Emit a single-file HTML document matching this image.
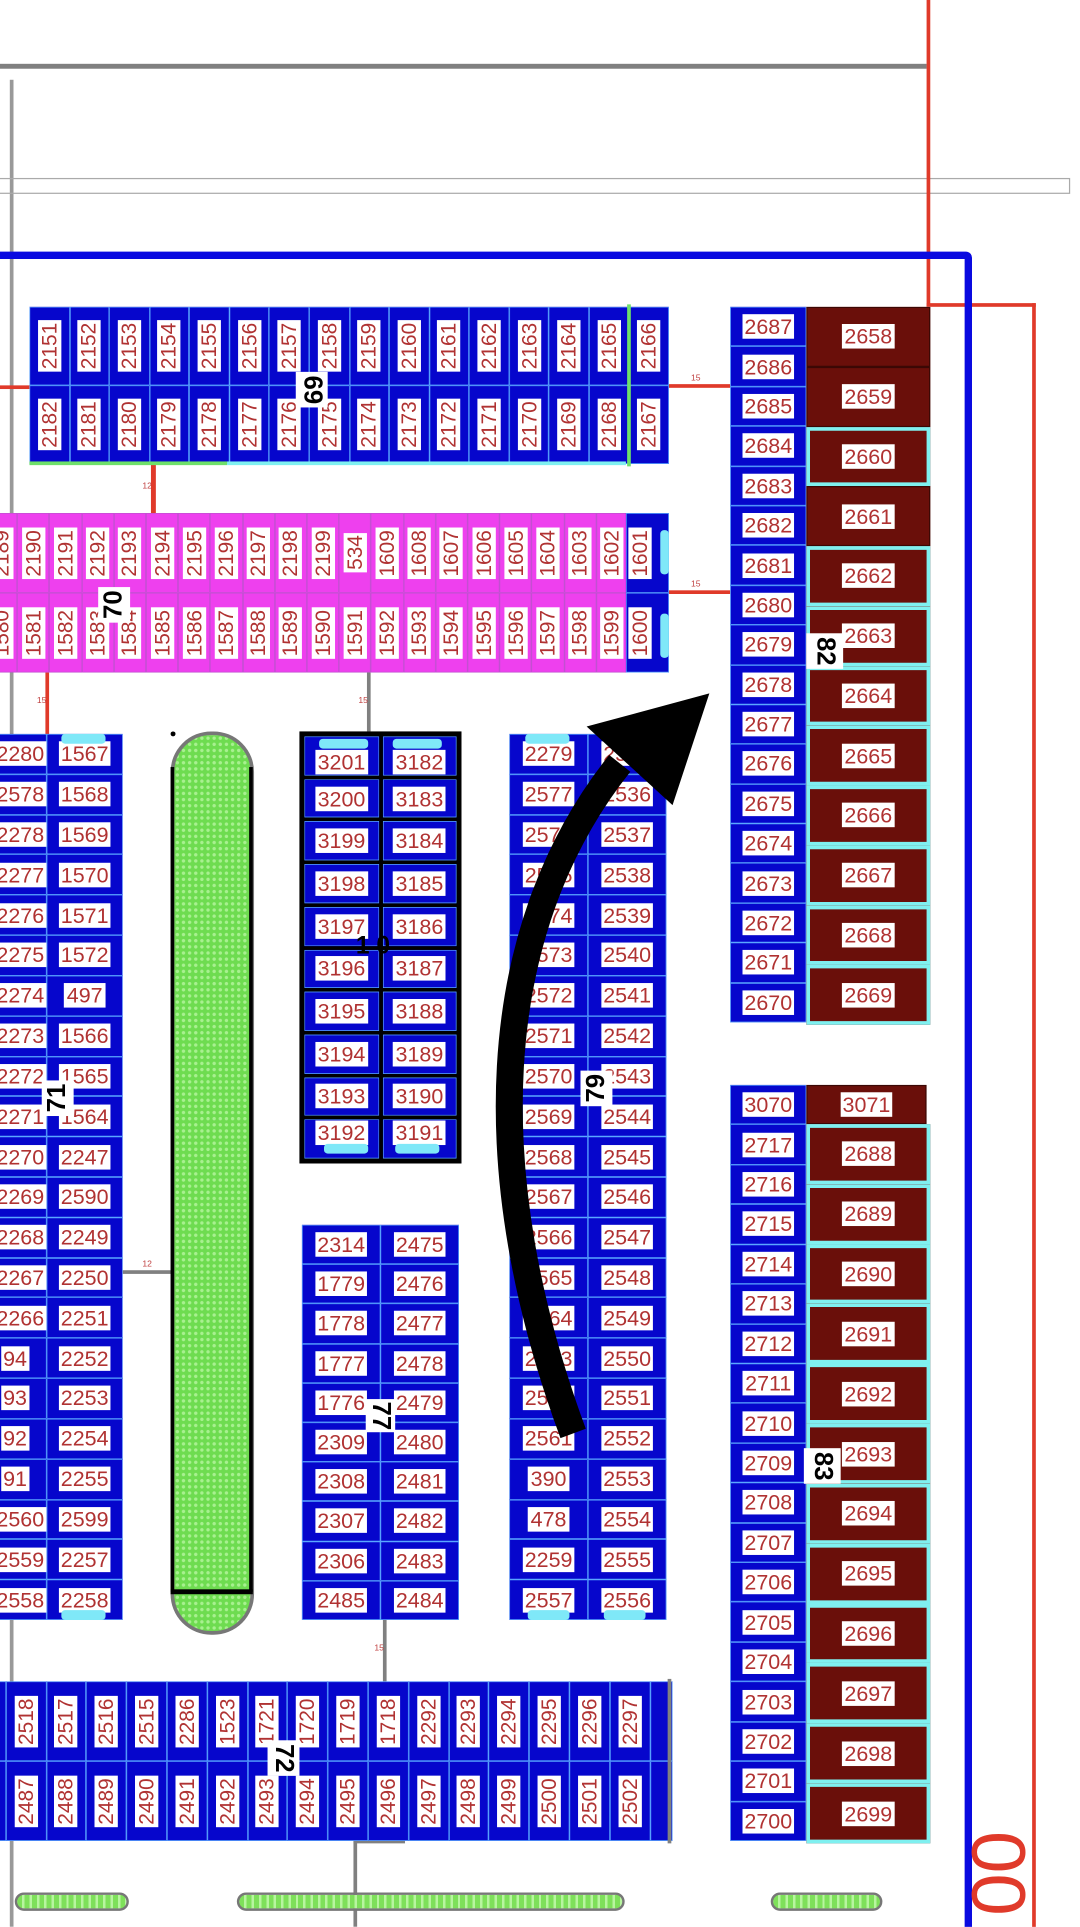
<!DOCTYPE html>
<html><head><meta charset="utf-8">
<style>
html,body{margin:0;padding:0;background:#fff;overflow:hidden;width:1080px;height:1927px}
#p{position:absolute;left:0;top:0;width:880px;height:1570px;transform:scale(1.22727);transform-origin:0 0;overflow:hidden;font-family:"Liberation Sans",sans-serif}
.a{position:absolute}
.g{position:absolute;display:grid;background:#0606cc}
.g>div{display:flex;align-items:center;justify-content:center;box-shadow:inset 0 0 0 .6px #5aa8ff;overflow:hidden}
.l{background:#fff;color:#b03232;font-size:17.5px;line-height:20px;padding:0 2px;white-space:nowrap}
.v{writing-mode:vertical-rl;transform:rotate(180deg);font-size:17px;line-height:19px;padding:2px 0}
.pk{background:#ee40ee}
.pk>div{box-shadow:inset 0 0 0 .6px #c050d0}
.br{background:#fff}
.br>div{background:#6a0f0a;box-shadow:inset 0 0 0 1px #3a0805}
.br>div.c{box-shadow:inset 0 0 0 3px #7ff0f0}
.num{position:absolute;background:#fff;font-weight:bold;font-size:21px;color:#000;writing-mode:vertical-rl;line-height:22px;padding:3px 2px}
.rl{position:absolute;background:#e03a2a}
.gl{position:absolute;background:#808080}
.cap{position:absolute;background:#7fe8f8;border-radius:3px;height:8px}
.s{position:absolute;font-size:7px;color:#c04040}
.bar{position:absolute;height:11px;border:2px solid #777;border-radius:8px;background:repeating-linear-gradient(90deg,#7ee05a 0 4px,#b8f5a0 4px 6px)}
</style></head><body><div id="p">

<div class="gl" style="left:0;top:52px;width:755px;height:4px"></div>
<div class="gl" style="left:8px;top:65px;width:3px;height:1505px;background:#999"></div>
<div class="a" style="left:-2px;top:145px;width:872px;height:11px;border:1px solid #aaa"></div>
<div class="rl" style="left:755px;top:0;width:3px;height:250px"></div>
<div class="rl" style="left:755px;top:247px;width:89px;height:3px"></div>
<div class="rl" style="left:841px;top:247px;width:3px;height:1330px"></div>
<div class="a" style="left:-10px;top:205px;width:790px;height:1400px;border:6px solid #0a0ae0;border-radius:0 5px 0 0"></div>
<div class="a" style="left:788px;top:1492px;color:#e03a2a;font-size:62px;line-height:54px;writing-mode:vertical-rl;transform:rotate(180deg)">00</div>

<div class="rl" style="left:0;top:314px;width:24px;height:3px"></div>
<div class="rl" style="left:545px;top:313px;width:50px;height:3px"></div><div class="s" style="left:563px;top:305px">15</div>
<div class="rl" style="left:545px;top:481px;width:50px;height:3px"></div><div class="s" style="left:563px;top:473px">15</div>
<div class="rl" style="left:123px;top:378px;width:4px;height:40px"></div><div class="s" style="left:116px;top:393px">12</div>
<div class="rl" style="left:37px;top:548px;width:3px;height:50px"></div><div class="s" style="left:30px;top:568px">15</div>
<div class="gl" style="left:299px;top:548px;width:3px;height:48px"></div><div class="s" style="left:292px;top:568px">15</div>
<div class="gl" style="left:100px;top:1035px;width:40px;height:3px"></div><div class="s" style="left:116px;top:1027px">12</div>
<div class="gl" style="left:312px;top:1320px;width:3px;height:50px"></div><div class="s" style="left:305px;top:1340px">15</div>
<div class="gl" style="left:288px;top:1500px;width:3px;height:70px"></div>
<div class="gl" style="left:288px;top:1499px;width:42px;height:3px"></div>

<!-- block 69 -->
<div class="g" style="left:24px;top:250px;width:521px;height:128px;grid-template-columns:repeat(16,1fr);grid-template-rows:1fr 1fr">
<div><span class="l v">2151</span></div><div><span class="l v">2152</span></div><div><span class="l v">2153</span></div><div><span class="l v">2154</span></div><div><span class="l v">2155</span></div><div><span class="l v">2156</span></div><div><span class="l v">2157</span></div><div><span class="l v">2158</span></div><div><span class="l v">2159</span></div><div><span class="l v">2160</span></div><div><span class="l v">2161</span></div><div><span class="l v">2162</span></div><div><span class="l v">2163</span></div><div><span class="l v">2164</span></div><div><span class="l v">2165</span></div><div><span class="l v">2166</span></div>
<div><span class="l v">2182</span></div><div><span class="l v">2181</span></div><div><span class="l v">2180</span></div><div><span class="l v">2179</span></div><div><span class="l v">2178</span></div><div><span class="l v">2177</span></div><div><span class="l v">2176</span></div><div><span class="l v">2175</span></div><div><span class="l v">2174</span></div><div><span class="l v">2173</span></div><div><span class="l v">2172</span></div><div><span class="l v">2171</span></div><div><span class="l v">2170</span></div><div><span class="l v">2169</span></div><div><span class="l v">2168</span></div><div><span class="l v">2167</span></div>
</div>
<div class="a" style="left:24px;top:376px;width:161px;height:3px;background:#6ee06a"></div>
<div class="a" style="left:185px;top:376px;width:325px;height:3px;background:#7ff0f0"></div>
<div class="a" style="left:511px;top:248px;width:3px;height:132px;background:#6ee06a"></div>
<div class="num" style="left:241px;top:303px">69</div>

<!-- block 70 -->
<div class="g pk" style="left:-12px;top:418px;width:524px;height:130px;grid-template-columns:repeat(20,1fr);grid-template-rows:1fr 1fr">
<div><span class="l v">2189</span></div><div><span class="l v">2190</span></div><div><span class="l v">2191</span></div><div><span class="l v">2192</span></div><div><span class="l v">2193</span></div><div><span class="l v">2194</span></div><div><span class="l v">2195</span></div><div><span class="l v">2196</span></div><div><span class="l v">2197</span></div><div><span class="l v">2198</span></div><div><span class="l v">2199</span></div><div><span class="l v">534</span></div><div><span class="l v">1609</span></div><div><span class="l v">1608</span></div><div><span class="l v">1607</span></div><div><span class="l v">1606</span></div><div><span class="l v">1605</span></div><div><span class="l v">1604</span></div><div><span class="l v">1603</span></div><div><span class="l v">1602</span></div>
<div><span class="l v">1580</span></div><div><span class="l v">1581</span></div><div><span class="l v">1582</span></div><div><span class="l v">1583</span></div><div><span class="l v">1584</span></div><div><span class="l v">1585</span></div><div><span class="l v">1586</span></div><div><span class="l v">1587</span></div><div><span class="l v">1588</span></div><div><span class="l v">1589</span></div><div><span class="l v">1590</span></div><div><span class="l v">1591</span></div><div><span class="l v">1592</span></div><div><span class="l v">1593</span></div><div><span class="l v">1594</span></div><div><span class="l v">1595</span></div><div><span class="l v">1596</span></div><div><span class="l v">1597</span></div><div><span class="l v">1598</span></div><div><span class="l v">1599</span></div>
</div>
<div class="g" style="left:510px;top:418px;width:35px;height:130px;grid-template-columns:1fr;grid-template-rows:1fr 1fr">
<div style="justify-content:flex-start;padding-left:2px"><span class="l v">1601</span></div><div style="justify-content:flex-start;padding-left:2px"><span class="l v">1600</span></div>
</div>
<div class="cap" style="left:538px;top:432px;width:7px;height:36px"></div>
<div class="cap" style="left:538px;top:500px;width:7px;height:36px"></div>
<div class="num" style="left:80px;top:478px;transform:rotate(180deg)">70</div>

<!-- block 71 -->
<div class="g" style="left:-26px;top:598px;width:126px;height:722px;grid-template-columns:64px 62px;grid-template-rows:repeat(22,1fr)">
<div style="justify-content:flex-end"><span class="l">2280</span></div><div><span class="l">1567</span></div>
<div style="justify-content:flex-end"><span class="l">2578</span></div><div><span class="l">1568</span></div>
<div style="justify-content:flex-end"><span class="l">2278</span></div><div><span class="l">1569</span></div>
<div style="justify-content:flex-end"><span class="l">2277</span></div><div><span class="l">1570</span></div>
<div style="justify-content:flex-end"><span class="l">2276</span></div><div><span class="l">1571</span></div>
<div style="justify-content:flex-end"><span class="l">2275</span></div><div><span class="l">1572</span></div>
<div style="justify-content:flex-end"><span class="l">2274</span></div><div><span class="l">497</span></div>
<div style="justify-content:flex-end"><span class="l">2273</span></div><div><span class="l">1566</span></div>
<div style="justify-content:flex-end"><span class="l">2272</span></div><div><span class="l">1565</span></div>
<div style="justify-content:flex-end"><span class="l">2271</span></div><div><span class="l">1564</span></div>
<div style="justify-content:flex-end"><span class="l">2270</span></div><div><span class="l">2247</span></div>
<div style="justify-content:flex-end"><span class="l">2269</span></div><div><span class="l">2590</span></div>
<div style="justify-content:flex-end"><span class="l">2268</span></div><div><span class="l">2249</span></div>
<div style="justify-content:flex-end"><span class="l">2267</span></div><div><span class="l">2250</span></div>
<div style="justify-content:flex-end"><span class="l">2266</span></div><div><span class="l">2251</span></div>
<div style="justify-content:flex-end;padding-right:14px"><span class="l">94</span></div><div><span class="l">2252</span></div>
<div style="justify-content:flex-end;padding-right:14px"><span class="l">93</span></div><div><span class="l">2253</span></div>
<div style="justify-content:flex-end;padding-right:14px"><span class="l">92</span></div><div><span class="l">2254</span></div>
<div style="justify-content:flex-end;padding-right:14px"><span class="l">91</span></div><div><span class="l">2255</span></div>
<div style="justify-content:flex-end"><span class="l">2560</span></div><div><span class="l">2599</span></div>
<div style="justify-content:flex-end"><span class="l">2559</span></div><div><span class="l">2257</span></div>
<div style="justify-content:flex-end"><span class="l">2558</span></div><div><span class="l">2258</span></div>
</div>
<div class="cap" style="left:50px;top:598px;width:36px"></div>
<div class="cap" style="left:50px;top:1312px;width:36px"></div>
<div class="num" style="left:34px;top:880px;transform:rotate(180deg)">71</div>

<!-- green island -->
<div class="a" style="left:139px;top:596px;width:62px;height:730px;border-radius:33px;border:3px solid #777;background:radial-gradient(circle,#a8f090 1.2px,#6edc50 1.6px) 0 0/5px 5px"></div>
<div class="a" style="left:139px;top:625px;width:3px;height:672px;background:#000"></div>
<div class="a" style="left:203px;top:625px;width:3px;height:672px;background:#000"></div>
<div class="a" style="left:139px;top:1295px;width:67px;height:4px;background:#000"></div>
<div class="a" style="left:139px;top:596px;width:4px;height:4px;border-radius:2px;background:#000"></div>

<!-- block 10 -->
<div class="g" style="left:244px;top:596px;width:132px;height:352px;border:4px solid #000;box-sizing:border-box;gap:3px;background:#000;grid-template-columns:1fr 1fr;grid-template-rows:repeat(10,1fr)">
<div style="background:#0606cc;padding-top:10px"><span class="l">3201</span></div><div style="background:#0606cc;padding-top:10px"><span class="l">3182</span></div>
<div style="background:#0606cc"><span class="l">3200</span></div><div style="background:#0606cc"><span class="l">3183</span></div>
<div style="background:#0606cc"><span class="l">3199</span></div><div style="background:#0606cc"><span class="l">3184</span></div>
<div style="background:#0606cc"><span class="l">3198</span></div><div style="background:#0606cc"><span class="l">3185</span></div>
<div style="background:#0606cc"><span class="l">3197</span></div><div style="background:#0606cc"><span class="l">3186</span></div>
<div style="background:#0606cc"><span class="l">3196</span></div><div style="background:#0606cc"><span class="l">3187</span></div>
<div style="background:#0606cc"><span class="l">3195</span></div><div style="background:#0606cc"><span class="l">3188</span></div>
<div style="background:#0606cc"><span class="l">3194</span></div><div style="background:#0606cc"><span class="l">3189</span></div>
<div style="background:#0606cc"><span class="l">3193</span></div><div style="background:#0606cc"><span class="l">3190</span></div>
<div style="background:#0606cc;padding-bottom:10px"><span class="l">3192</span></div><div style="background:#0606cc;padding-bottom:10px"><span class="l">3191</span></div>
</div>
<div class="cap" style="left:260px;top:602px;width:40px"></div><div class="cap" style="left:320px;top:602px;width:40px"></div>
<div class="cap" style="left:264px;top:932px;width:36px"></div><div class="cap" style="left:322px;top:932px;width:36px"></div>
<div class="a" style="left:290px;top:760px;font-weight:bold;font-size:20px;color:#000">1 0</div>

<!-- block 77 -->
<div class="g" style="left:246px;top:998px;width:128px;height:322px;grid-template-columns:1fr 1fr;grid-template-rows:repeat(10,1fr)">
<div><span class="l">2314</span></div><div><span class="l">2475</span></div>
<div><span class="l">1779</span></div><div><span class="l">2476</span></div>
<div><span class="l">1778</span></div><div><span class="l">2477</span></div>
<div><span class="l">1777</span></div><div><span class="l">2478</span></div>
<div><span class="l">1776</span></div><div><span class="l">2479</span></div>
<div><span class="l">2309</span></div><div><span class="l">2480</span></div>
<div><span class="l">2308</span></div><div><span class="l">2481</span></div>
<div><span class="l">2307</span></div><div><span class="l">2482</span></div>
<div><span class="l">2306</span></div><div><span class="l">2483</span></div>
<div><span class="l">2485</span></div><div><span class="l">2484</span></div>
</div>
<div class="num" style="left:298px;top:1140px;padding:2px 1px">77</div>

<!-- block 79 -->
<div class="g" style="left:415px;top:598px;width:128px;height:722px;grid-template-columns:1fr 1fr;grid-template-rows:repeat(22,1fr)">
<div><span class="l">2279</span></div><div><span class="l">2535</span></div>
<div><span class="l">2577</span></div><div><span class="l">2536</span></div>
<div><span class="l">2576</span></div><div><span class="l">2537</span></div>
<div><span class="l">2575</span></div><div><span class="l">2538</span></div>
<div><span class="l">2574</span></div><div><span class="l">2539</span></div>
<div><span class="l">2573</span></div><div><span class="l">2540</span></div>
<div><span class="l">2572</span></div><div><span class="l">2541</span></div>
<div><span class="l">2571</span></div><div><span class="l">2542</span></div>
<div><span class="l">2570</span></div><div><span class="l">2543</span></div>
<div><span class="l">2569</span></div><div><span class="l">2544</span></div>
<div><span class="l">2568</span></div><div><span class="l">2545</span></div>
<div><span class="l">2567</span></div><div><span class="l">2546</span></div>
<div><span class="l">2566</span></div><div><span class="l">2547</span></div>
<div><span class="l">2565</span></div><div><span class="l">2548</span></div>
<div><span class="l">2564</span></div><div><span class="l">2549</span></div>
<div><span class="l">2563</span></div><div><span class="l">2550</span></div>
<div><span class="l">2562</span></div><div><span class="l">2551</span></div>
<div><span class="l">2561</span></div><div><span class="l">2552</span></div>
<div><span class="l">390</span></div><div><span class="l">2553</span></div>
<div><span class="l">478</span></div><div><span class="l">2554</span></div>
<div><span class="l">2259</span></div><div><span class="l">2555</span></div>
<div><span class="l">2557</span></div><div><span class="l">2556</span></div>
</div>
<div class="cap" style="left:428px;top:598px;width:36px"></div>
<div class="cap" style="left:430px;top:1312px;width:34px"></div><div class="cap" style="left:492px;top:1312px;width:34px"></div>
<div class="num" style="left:473px;top:872px;transform:rotate(180deg)">79</div>

<svg class="a" style="left:0;top:0" width="880" height="1570">
<path d="M467 1168 C 390 960, 395 760, 505 622" fill="none" stroke="#000" stroke-width="22"/>
<polygon points="578,565 478,592 548,656" fill="#000"/>
</svg>

<!-- block 82 -->
<div class="g" style="left:595px;top:250px;width:62px;height:583px;grid-template-columns:1fr;grid-template-rows:repeat(18,1fr)">
<div><span class="l">2687</span></div><div><span class="l">2686</span></div><div><span class="l">2685</span></div><div><span class="l">2684</span></div><div><span class="l">2683</span></div><div><span class="l">2682</span></div><div><span class="l">2681</span></div><div><span class="l">2680</span></div><div><span class="l">2679</span></div><div><span class="l">2678</span></div><div><span class="l">2677</span></div><div><span class="l">2676</span></div><div><span class="l">2675</span></div><div><span class="l">2674</span></div><div><span class="l">2673</span></div><div><span class="l">2672</span></div><div><span class="l">2671</span></div><div><span class="l">2670</span></div>
</div>
<div class="g br" style="left:657px;top:250px;width:101px;height:585px;grid-template-columns:1fr;grid-template-rows:repeat(12,1fr)">
<div><span class="l">2658</span></div><div><span class="l">2659</span></div><div class="c"><span class="l">2660</span></div><div><span class="l">2661</span></div><div class="c"><span class="l">2662</span></div><div class="c"><span class="l">2663</span></div><div class="c"><span class="l">2664</span></div><div class="c"><span class="l">2665</span></div><div class="c"><span class="l">2666</span></div><div class="c"><span class="l">2667</span></div><div class="c"><span class="l">2668</span></div><div class="c"><span class="l">2669</span></div>
</div>
<div class="num" style="left:657px;top:516px;padding:3px 4px">82</div>

<!-- block 83 -->
<div class="g" style="left:595px;top:884px;width:62px;height:616px;grid-template-columns:1fr;grid-template-rows:repeat(19,1fr)">
<div><span class="l">3070</span></div><div><span class="l">2717</span></div><div><span class="l">2716</span></div><div><span class="l">2715</span></div><div><span class="l">2714</span></div><div><span class="l">2713</span></div><div><span class="l">2712</span></div><div><span class="l">2711</span></div><div><span class="l">2710</span></div><div><span class="l">2709</span></div><div><span class="l">2708</span></div><div><span class="l">2707</span></div><div><span class="l">2706</span></div><div><span class="l">2705</span></div><div><span class="l">2704</span></div><div><span class="l">2703</span></div><div><span class="l">2702</span></div><div><span class="l">2701</span></div><div><span class="l">2700</span></div>
</div>
<div class="g br" style="left:657px;top:884px;width:98px;height:32px;grid-template-columns:1fr;grid-template-rows:1fr"><div><span class="l">3071</span></div></div>
<div class="g br" style="left:657px;top:916px;width:101px;height:586px;grid-template-columns:1fr;grid-template-rows:repeat(12,1fr)">
<div class="c"><span class="l">2688</span></div><div class="c"><span class="l">2689</span></div><div class="c"><span class="l">2690</span></div><div class="c"><span class="l">2691</span></div><div class="c"><span class="l">2692</span></div><div class="c"><span class="l">2693</span></div><div class="c"><span class="l">2694</span></div><div class="c"><span class="l">2695</span></div><div class="c"><span class="l">2696</span></div><div class="c"><span class="l">2697</span></div><div class="c"><span class="l">2698</span></div><div class="c"><span class="l">2699</span></div>
</div>
<div class="num" style="left:655px;top:1180px;padding:3px 4px">83</div>

<!-- block 72 -->
<div class="g" style="left:-28px;top:1370px;width:576px;height:130px;grid-template-columns:repeat(17,32.8px) 18px;grid-template-rows:1fr 1fr">
<div></div><div><span class="l v">2518</span></div><div><span class="l v">2517</span></div><div><span class="l v">2516</span></div><div><span class="l v">2515</span></div><div><span class="l v">2286</span></div><div><span class="l v">1523</span></div><div><span class="l v">1721</span></div><div><span class="l v">1720</span></div><div><span class="l v">1719</span></div><div><span class="l v">1718</span></div><div><span class="l v">2292</span></div><div><span class="l v">2293</span></div><div><span class="l v">2294</span></div><div><span class="l v">2295</span></div><div><span class="l v">2296</span></div><div><span class="l v">2297</span></div><div></div>
<div></div><div><span class="l v">2487</span></div><div><span class="l v">2488</span></div><div><span class="l v">2489</span></div><div><span class="l v">2490</span></div><div><span class="l v">2491</span></div><div><span class="l v">2492</span></div><div><span class="l v">2493</span></div><div><span class="l v">2494</span></div><div><span class="l v">2495</span></div><div><span class="l v">2496</span></div><div><span class="l v">2497</span></div><div><span class="l v">2498</span></div><div><span class="l v">2499</span></div><div><span class="l v">2500</span></div><div><span class="l v">2501</span></div><div><span class="l v">2502</span></div><div></div>
</div>
<div class="gl" style="left:544px;top:1368px;width:3px;height:134px"></div>
<div class="num" style="left:218px;top:1418px">72</div>

<div class="bar" style="left:12px;top:1542px;width:89px"></div>
<div class="bar" style="left:193px;top:1542px;width:312px"></div>
<div class="bar" style="left:628px;top:1542px;width:87px"></div>

</div></body></html>
